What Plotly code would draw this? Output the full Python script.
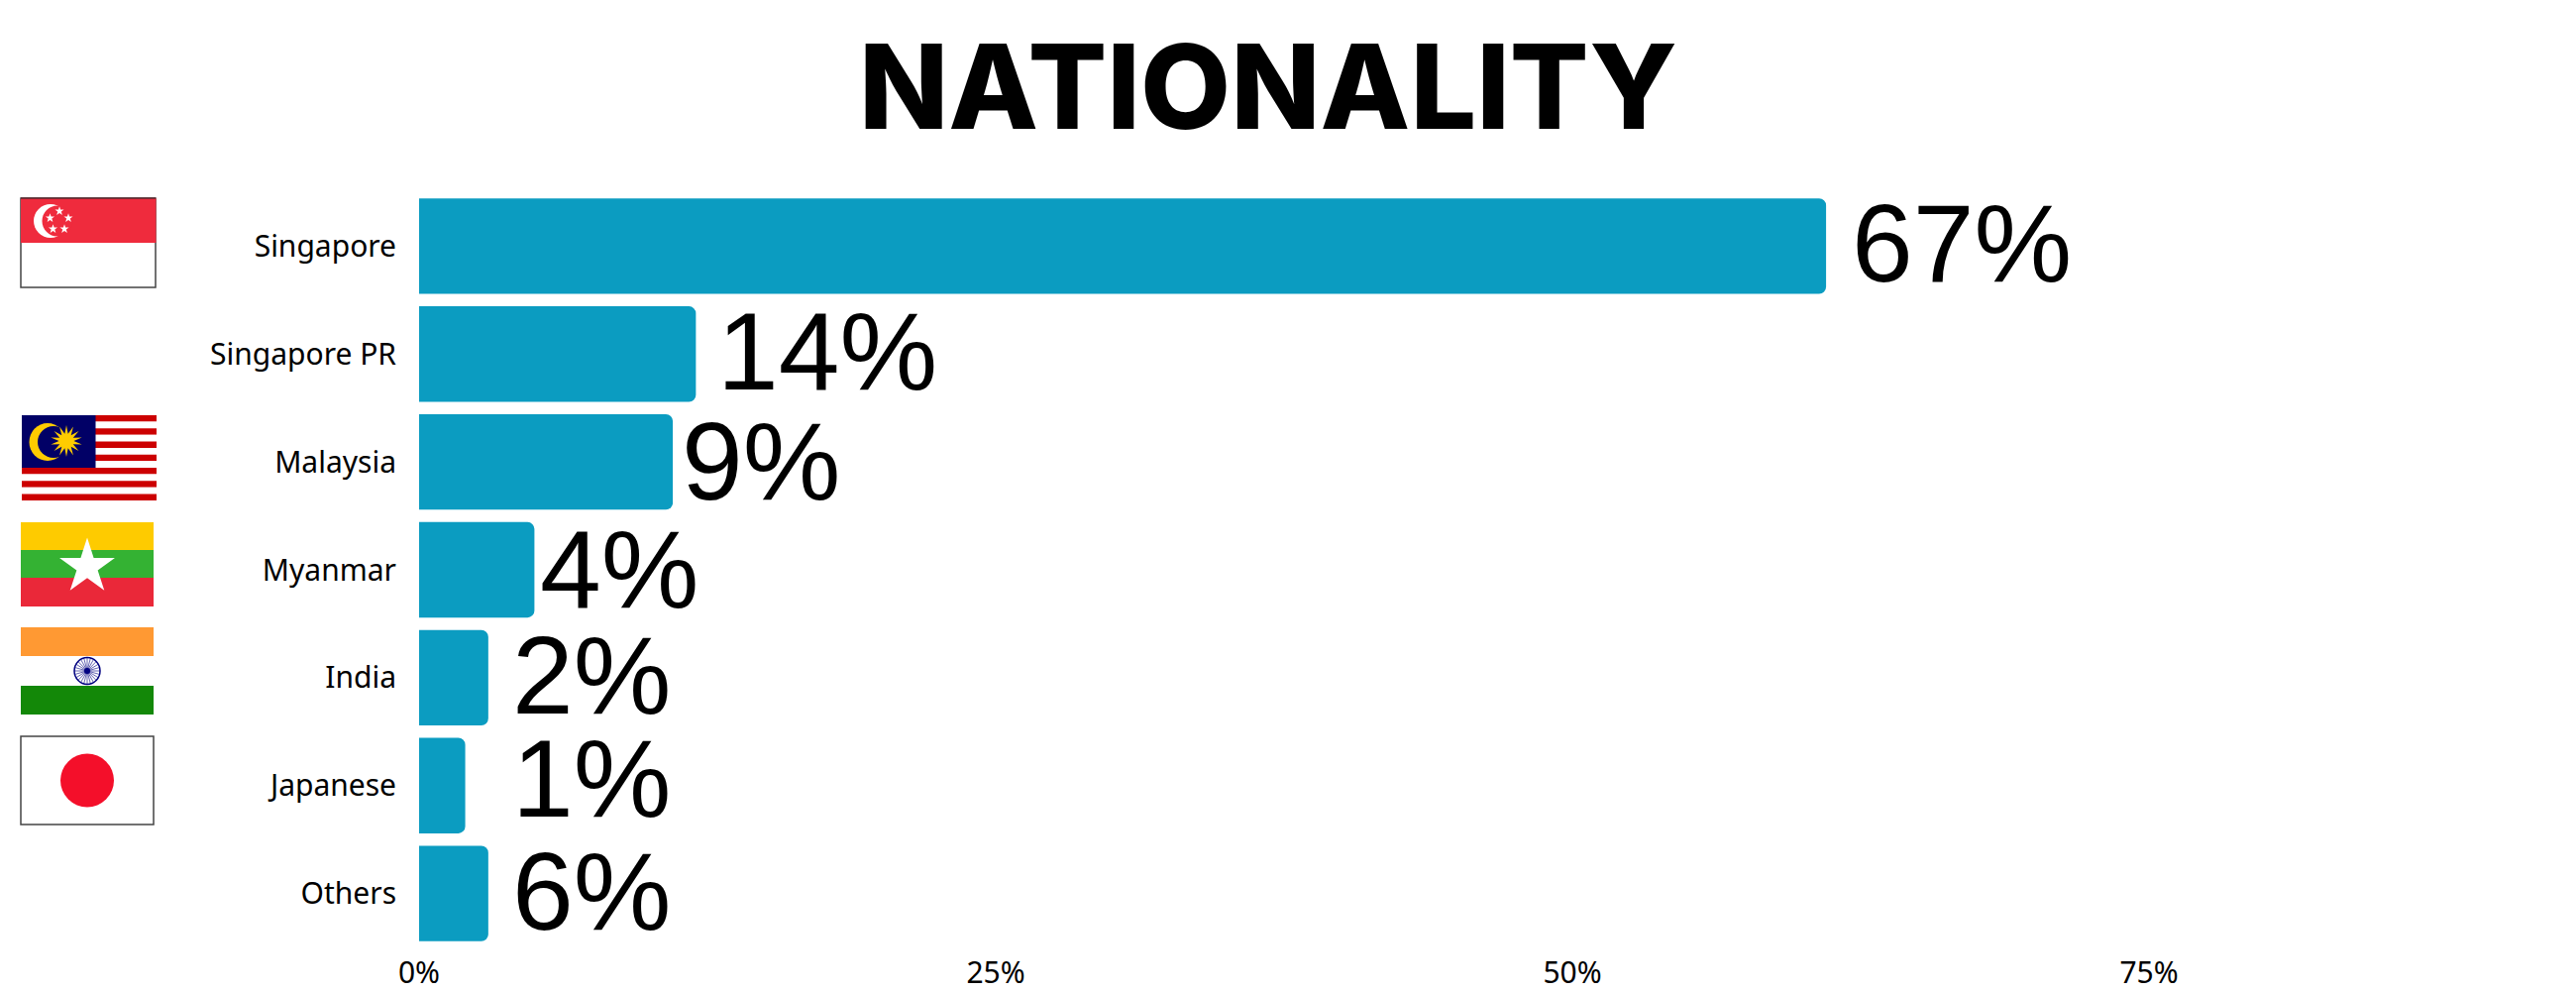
import math
import plotly.graph_objects as go

categories = ["Singapore", "Singapore PR", "Malaysia", "Myanmar", "India", "Japanese", "Others"]
bar_values = [61, 12, 11, 5, 3, 2, 3]
value_labels = ["67%", "14%", "9%", "4%", "2%", "1%", "6%"]
x_ticks = [0, 25, 50, 75]
x_tick_labels = ["0%", "25%", "50%", "75%"]
title_text = "NATIONALITY"

W, H = 2600, 1000
BAR = "#0B9CC1"
# pixel nudges for the big value labels
label_dx = [24, 20, 7, 4, 22, 45, 22]
label_dy = [2, 2, 0, 0, 2, 7, 2]


def px(x):
    return x / W


def py(y):
    return 1 - y / H


shapes = []


def rect(x0, y0, x1, y1, fill, line=None, lw=1.5):
    shapes.append(dict(type="rect", xref="paper", yref="paper", x0=px(x0), x1=px(x1), y0=py(y0), y1=py(y1),
                       fillcolor=fill, line=dict(color=line or fill, width=lw if line else 0), layer="above"))


def ell(cx, cy, rx, ry, fill, line=None, lw=1):
    shapes.append(dict(type="circle", xref="paper", yref="paper", x0=px(cx - rx), x1=px(cx + rx),
                       y0=py(cy - ry), y1=py(cy + ry), fillcolor=fill,
                       line=dict(color=line or fill, width=lw if line else 0), layer="above"))


def star(cx, cy, r_out, r_in, n, fill):
    pts = []
    for i in range(2 * n):
        r = r_out if i % 2 == 0 else r_in
        a = -math.pi / 2 + i * math.pi / n
        pts.append((px(cx + r * math.cos(a)), py(cy + r * math.sin(a))))
    path = "M" + " L".join(f"{a:.5f},{b:.5f}" for a, b in pts) + " Z"
    shapes.append(dict(type="path", xref="paper", yref="paper", path=path, fillcolor=fill,
                       line=dict(width=0), layer="above"))


# Singapore flag
rect(21, 200, 157, 290, "#FFFFFF", "#444444", 1.5)
rect(21, 200, 157.5, 245, "#EF2B3D")
shapes.append(dict(type="line", xref="paper", yref="paper", x0=px(21), x1=px(157), y0=py(200), y1=py(200),
                   line=dict(color="#5a2a2f", width=1.5), layer="above"))
ell(51, 223, 17, 17, "#FFFFFF")
ell(58, 223, 15.5, 15.5, "#EF2B3D")
for sx, sy in [(60, 213), (50.5, 220), (69, 220), (53.5, 231), (65, 231)]:
    star(sx, sy, 4.8, 1.9, 5, "#FFFFFF")

# Malaysia flag
for i in range(13):
    top = 419 + i * 86 / 13
    rect(22, top, 158, top + 86 / 13, "#CC0001" if i % 2 == 0 else "#FFFFFF")
rect(22, 419, 96.5, 472, "#010066")
ell(48, 446, 18.5, 19, "#FFCC00")
ell(54, 446, 16, 16, "#010066")
star(67, 445, 16, 7.5, 14, "#FFCC00")

# Myanmar flag
rect(21, 527, 155, 555, "#FECB00")
rect(21, 555, 155, 583, "#34B233")
rect(21, 583, 155, 612, "#EA2839")
star(88, 572, 29.4, 11.2, 5, "#FFFFFF")

# India flag
rect(21, 633, 155, 662, "#FF9933")
rect(21, 692, 155, 721, "#138808")
ell(88, 677, 13, 13.5, "#FFFFFF", "#000080", 1.5)
for i in range(12):
    a = i * math.pi / 12
    shapes.append(dict(type="line", xref="paper", yref="paper",
                       x0=px(88 - 13 * math.cos(a)), x1=px(88 + 13 * math.cos(a)),
                       y0=py(677 - 13.5 * math.sin(a)), y1=py(677 + 13.5 * math.sin(a)),
                       line=dict(color="#000080", width=0.6), layer="above"))
ell(88, 677, 3, 3, "#000080")

# Japan flag
rect(21, 743, 155, 832, "#FFFFFF", "#444444", 1.5)
ell(88, 787.5, 27, 27, "#F40F2A")

fig = go.Figure(go.Bar(
    x=bar_values, y=categories, orientation="h",
    marker=dict(color=BAR, line=dict(width=0)),
    hoverinfo="skip",
))

annotations = [
    dict(x=v, y=c, xref="x", yref="y", text=t, showarrow=False, xanchor="left", yanchor="middle",
         xshift=dx, yshift=dy, font=dict(family="Liberation Sans", size=111, color="#000000"))
    for v, c, t, dx, dy in zip(bar_values, categories, value_labels, label_dx, label_dy)
]

fig.update_layout(
    width=W, height=H,
    margin=dict(l=0, r=0, t=0, b=0, pad=0),
    paper_bgcolor="#FFFFFF", plot_bgcolor="#FFFFFF",
    showlegend=False,
    bargap=0.115,
    barcornerradius=7,
    title=dict(text=title_text, x=1280 / W, xref="paper", xanchor="center",
               y=1 - 89 / H, yref="paper", yanchor="middle",
               font=dict(family="Inter", size=118, color="#000000", weight=800)),
    xaxis=dict(domain=[423 / W, 1], range=[0, (W - 423) / 23.28], tickvals=x_ticks, ticktext=x_tick_labels,
               showgrid=False, zeroline=False, showline=False, ticks="", ticklabelstandoff=5,
               automargin=False, tickfont=dict(family="Noto Sans", size=30, color="#000000")),
    yaxis=dict(domain=[1 - 956 / H, 1 - 194 / H], autorange=False, range=[6.5, -0.5],
               categoryorder="array", categoryarray=categories,
               showgrid=False, zeroline=False, showline=False, ticks="", ticklabelstandoff=22,
               automargin=False, tickfont=dict(family="Noto Sans", size=30, color="#000000")),
    shapes=shapes,
    annotations=annotations,
)

fig.write_html("out.html", config={"displayModeBar": False},
               post_script="document.body.style.margin='0';")
